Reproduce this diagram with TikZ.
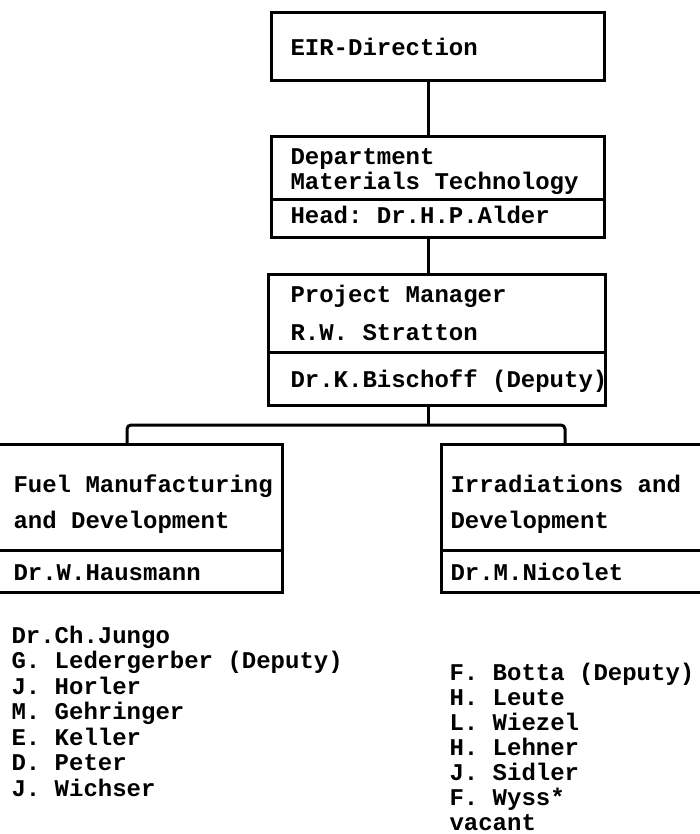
\documentclass[tikz,border=0pt]{standalone}
\usepackage{fontspec}
\setmonofont{Liberation Mono}
\begin{document}
\begin{tikzpicture}[x=1pt,y=-1pt,line width=3pt,
  box/.style={draw,rectangle,inner sep=0pt,outer sep=0pt},
  txt/.style={anchor=base west,inner sep=0pt,font=\ttfamily\bfseries\fontsize{24}{24}\selectfont},
  conn/.style={line width=3pt}]
\useasboundingbox (0,0) rectangle (700,834);
% boxes
\node[box,minimum width=333pt,minimum height=68pt] (eir) at (437.5,47) {};
\node[box,minimum width=333pt,minimum height=100pt] (dept) at (437.5,187) {};
\node[box,minimum width=337pt,minimum height=131pt] (pm) at (436.5,339.5) {};
\node[box,minimum width=287pt,minimum height=148pt] (fuel) at (138.5,518) {};
\node[box,minimum width=264pt,minimum height=148pt] (irr) at (573,518) {};
% separators
\draw (dept.west |- 0,200) -- (dept.east |- 0,200);
\draw (pm.west |- 0,352) -- (pm.east |- 0,352);
\draw (fuel.west |- 0,550) -- (fuel.east |- 0,550);
\draw (irr.west |- 0,550) -- (irr.east |- 0,550);
% texts
\node[txt] (t1) at (289,56) {EIR-Direction};
\node[txt] (t2) at (289,165) {Department};
\node[txt] (t3) at (289,190) {Materials Technology};
\node[txt] (t4) at (289,223) {Head: Dr.H.P.Alder};
\node[txt] (t5) at (289,302) {Project Manager};
\node[txt] (t6) at (289,340) {R.W. Stratton};
\node[txt] (t7) at (289,387) {Dr.K.Bischoff (Deputy)};
\node[txt] (t8) at (12,492) {Fuel Manufacturing};
\node[txt] (t9) at (12,528) {and Development};
\node[txt] (t10) at (12,580) {Dr.W.Hausmann};
\node[txt] (t11) at (449,492) {Irradiations and};
\node[txt] (t12) at (449,528) {Development};
\node[txt] (t13) at (449,580) {Dr.M.Nicolet};
% lists
\node[txt] (l1) at (10,643) {Dr.Ch.Jungo};
\node[txt] (l2) at (10,668.5) {G. Ledergerber (Deputy)};
\node[txt] (l3) at (10,694) {J. Horler};
\node[txt] (l4) at (10,719.5) {M. Gehringer};
\node[txt] (l5) at (10,745) {E. Keller};
\node[txt] (l6) at (10,770.5) {D. Peter};
\node[txt] (l7) at (10,796) {J. Wichser};
\node[txt] (r1) at (448,680) {F. Botta (Deputy)};
\node[txt] (r2) at (448,705) {H. Leute};
\node[txt] (r3) at (448,730) {L. Wiezel};
\node[txt] (r4) at (448,755) {H. Lehner};
\node[txt] (r5) at (448,780) {J. Sidler};
\node[txt] (r6) at (448,805) {F. Wyss*};
\node[txt] (r7) at (448,830) {vacant};
% connectors
\draw[conn] ([xshift=-9.5pt]eir.south) -- ([xshift=-9.5pt]dept.north);
\draw[conn] ([xshift=-9.5pt]dept.south) -- ([xshift=-8.5pt]pm.north);
\coordinate (bl) at (127,425);
\coordinate (br) at (565,425);
\coordinate (pmc) at ([xshift=-8.5pt]pm.south);
\draw[conn] (pmc) -- (pmc |- bl);
\draw[conn,rounded corners=4pt] (bl |- fuel.north) -- (bl) -- (br) -- (br |- irr.north);
\end{tikzpicture}
\end{document}
